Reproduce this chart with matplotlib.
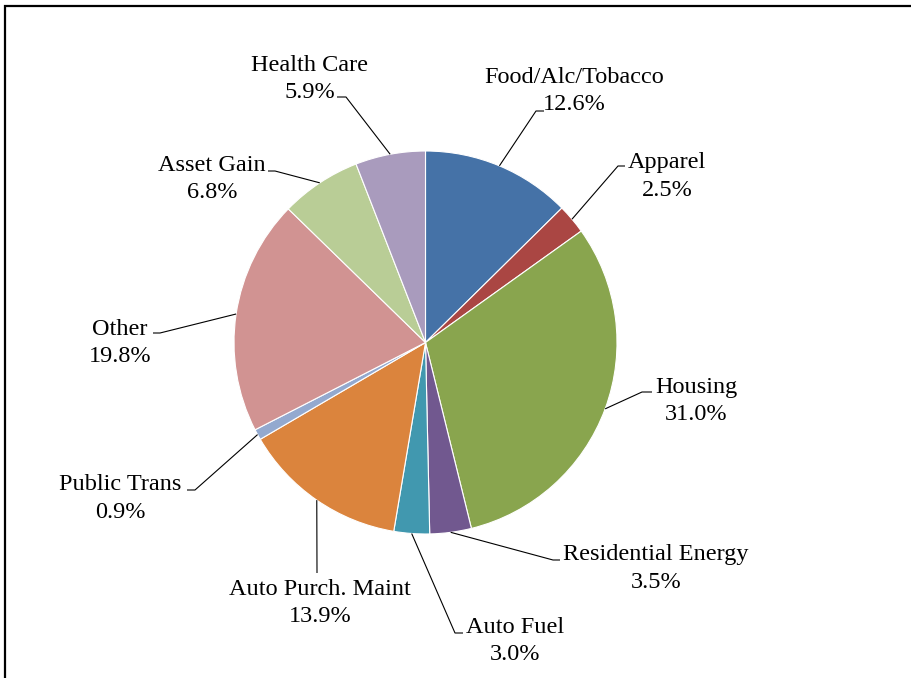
"""Pie chart of consumption shares with Excel-style leader lines."""

import matplotlib
matplotlib.use("Agg")
import matplotlib.pyplot as plt
import numpy as np

# --- data -------------------------------------------------------------
categories = [
    "Food/Alc/Tobacco", "Apparel", "Housing", "Residential Energy",
    "Auto Fuel", "Auto Purch. Maint", "Public Trans", "Other",
    "Asset Gain", "Health Care",
]
shares = [12.6, 2.5, 31.0, 3.5, 3.0, 13.9, 0.9, 19.8, 6.8, 5.9]
colors = [
    "#4572A7", "#AA4643", "#89A54E", "#71588F", "#4198AF",
    "#DB843D", "#93A9CF", "#D19392", "#B9CD96", "#A99BBD",
]

# --- layout (pixel coords, y measured from the top) --------------------
W, H = 912, 678
pie_center = (425.5, 342.5)
pie_radius = 191.5
# centre x / first baseline y of each label
label_xy = [(574, 83), (667, 168), (696, 393), (656, 560), (515, 633),
            (320, 595), (120, 490), (120, 335), (212, 171), (310, 71)]
# where the leader touches the label, and its elbow
leader_start = [(544, 111), (625, 166), (652, 392), (560, 560), (463, 633),
                (317, 573), (187, 490), (153, 333), (268, 171), (337, 97)]
leader_elbow = [(536, 111), (618, 166), (642, 392), (553, 560), (455, 633),
                (317, 573), (195, 490), (160, 333), (275, 171), (346, 97)]
line_gap = 27.5

font = dict(family="Liberation Serif", size=17.5, color="black")

fig = plt.figure(figsize=(W / 100, H / 100), dpi=100)
ax = fig.add_axes([0, 0, 1, 1])

# y axis is inverted below, so counterclockwise in data = clockwise on screen
wedges, _ = ax.pie(
    shares, colors=colors, startangle=270, counterclock=True,
    center=pie_center, radius=pie_radius,
    wedgeprops=dict(edgecolor="white", linewidth=0.8),
)
ax.set_xlim(0, W)
ax.set_ylim(H, 0)
ax.set_aspect("equal")
ax.axis("off")

for wedge, name, val, (tx, ty), start, elbow in zip(
        wedges, categories, shares, label_xy, leader_start, leader_elbow):
    mid = np.deg2rad((wedge.theta1 + wedge.theta2) / 2)
    cx, cy = wedge.center
    px = cx + wedge.r * np.cos(mid)
    py = cy + wedge.r * np.sin(mid)
    ax.plot([start[0], elbow[0], px], [start[1], elbow[1], py],
            color="black", lw=0.8, solid_capstyle="butt")
    ax.text(tx, ty, name, ha="center", va="baseline", **font)
    ax.text(tx, ty + line_gap, f"{val:.1f}%", ha="center", va="baseline", **font)

# chart frame (cropped on the right and bottom)
ax.plot([5.5, 5.5, W + 5], [H + 5, 5.5, 5.5], color="black", lw=1.6,
        clip_on=False, solid_joinstyle="miter")

fig.savefig("out.png", dpi=100)
